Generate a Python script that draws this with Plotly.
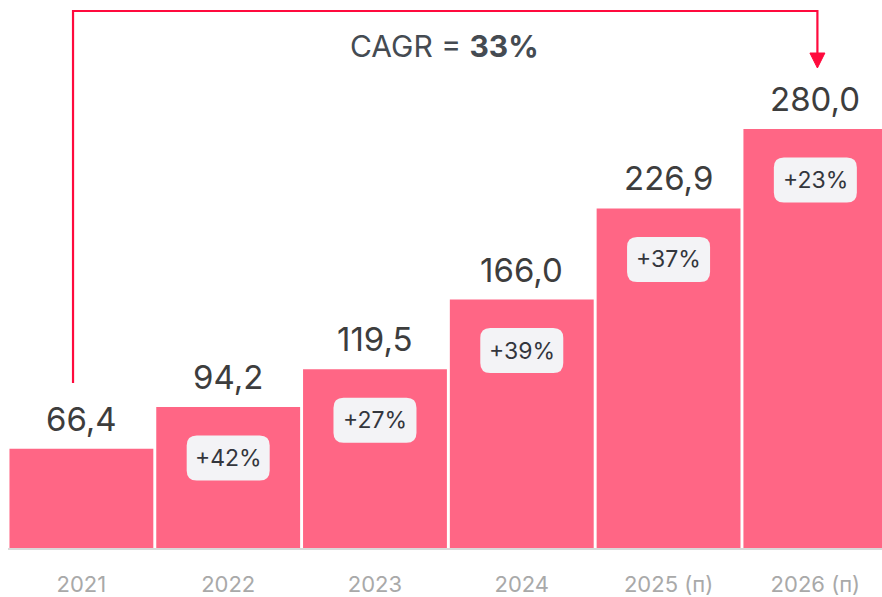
import plotly.graph_objects as go

years = ["2021", "2022", "2023", "2024", "2025 (п)", "2026 (п)"]
values = [66.4, 94.2, 119.5, 166.0, 226.9, 280.0]
value_labels = ["66,4", "94,2", "119,5", "166,0", "226,9", "280,0"]
growth = [None, "+42%", "+27%", "+39%", "+37%", "+23%"]
cagr_label = "CAGR = <b>33%</b>"

BAR = "#FF6685"
RED = "#FF0A3D"
FONT = "Inter, Roboto, sans-serif"

xs = list(range(len(years)))

fig = go.Figure(go.Bar(
    x=xs, y=values, marker=dict(color=BAR, line=dict(width=0)),
    hoverinfo="skip",
))

annotations = []
shapes = []
for i, (v, lab) in enumerate(zip(values, value_labels)):
    annotations.append(dict(
        x=i, y=v, xref="x", yref="y", text=lab, showarrow=False,
        yanchor="bottom", yshift=8,
        font=dict(family=FONT, size=33, color="#3d3d3d"),
    ))
    g = growth[i]
    if g:
        w, h, r = 41.5, 22.5, 10
        path = (f"M{-w+r},{-h} L{w-r},{-h} Q{w},{-h} {w},{-h+r} "
                f"L{w},{h-r} Q{w},{h} {w-r},{h} L{-w+r},{h} Q{-w},{h} {-w},{h-r} "
                f"L{-w},{-h+r} Q{-w},{-h} {-w+r},{-h} Z")
        shapes.append(dict(
            type="path", xref="x", yref="y", xsizemode="pixel", ysizemode="pixel",
            xanchor=i, yanchor=v - 51 / 1.4964, path=path,
            fillcolor="#F3F3F6", line=dict(width=0), layer="above",
        ))
        annotations.append(dict(
            x=i, y=v, xref="x", yref="y", text=g, showarrow=False,
            yanchor="middle", yshift=-51,
            font=dict(family=FONT, size=23, color="#33363d"),
        ))

xl, xr = -0.057, 5.014
def py(p):
    return (548 - p) / 548
shapes.append(dict(
    type="path", xref="x", yref="paper",
    path=f"M{xl},{py(383)} L{xl},{py(11)} L{xr},{py(11)} L{xr},{py(56)}",
    line=dict(color=RED, width=2.2), fillcolor="rgba(0,0,0,0)",
))
hw = 7.5 / 146.8
shapes.append(dict(
    type="path", xref="x", yref="paper",
    path=f"M{xr-hw},{py(53)} L{xr+hw},{py(53)} L{xr},{py(68)} Z",
    line=dict(color=RED, width=1), fillcolor=RED,
))

annotations.append(dict(
    x=(444 - 8) / 874, y=py(45.5), xref="paper", yref="paper", text=cagr_label,
    showarrow=False, xanchor="center", yanchor="middle",
    font=dict(family=FONT, size=30, color="#454b52"),
))

fig.update_layout(
    width=882, height=597,
    margin=dict(l=8, r=0, t=0, b=49, autoexpand=False),
    paper_bgcolor="white", plot_bgcolor="white",
    bargap=0.02, showlegend=False,
    annotations=annotations, shapes=shapes,
    xaxis=dict(
        range=[-0.5, 5.454], tickvals=xs, ticktext=years,
        showgrid=False, zeroline=False, showline=True,
        linecolor="#D9D9D9", linewidth=2, ticks="",
        ticklabelstandoff=16, automargin=False,
        tickfont=dict(family=FONT, size=22, color="#A9A9A9"),
        fixedrange=True,
    ),
    yaxis=dict(
        range=[0, 548 / 1.4964], visible=False, showgrid=False,
        zeroline=False, fixedrange=True, automargin=False,
    ),
)

fig.write_html("out.html", config={"displayModeBar": False},
               post_script="document.body.style.margin='0';document.body.style.overflow='hidden';")
